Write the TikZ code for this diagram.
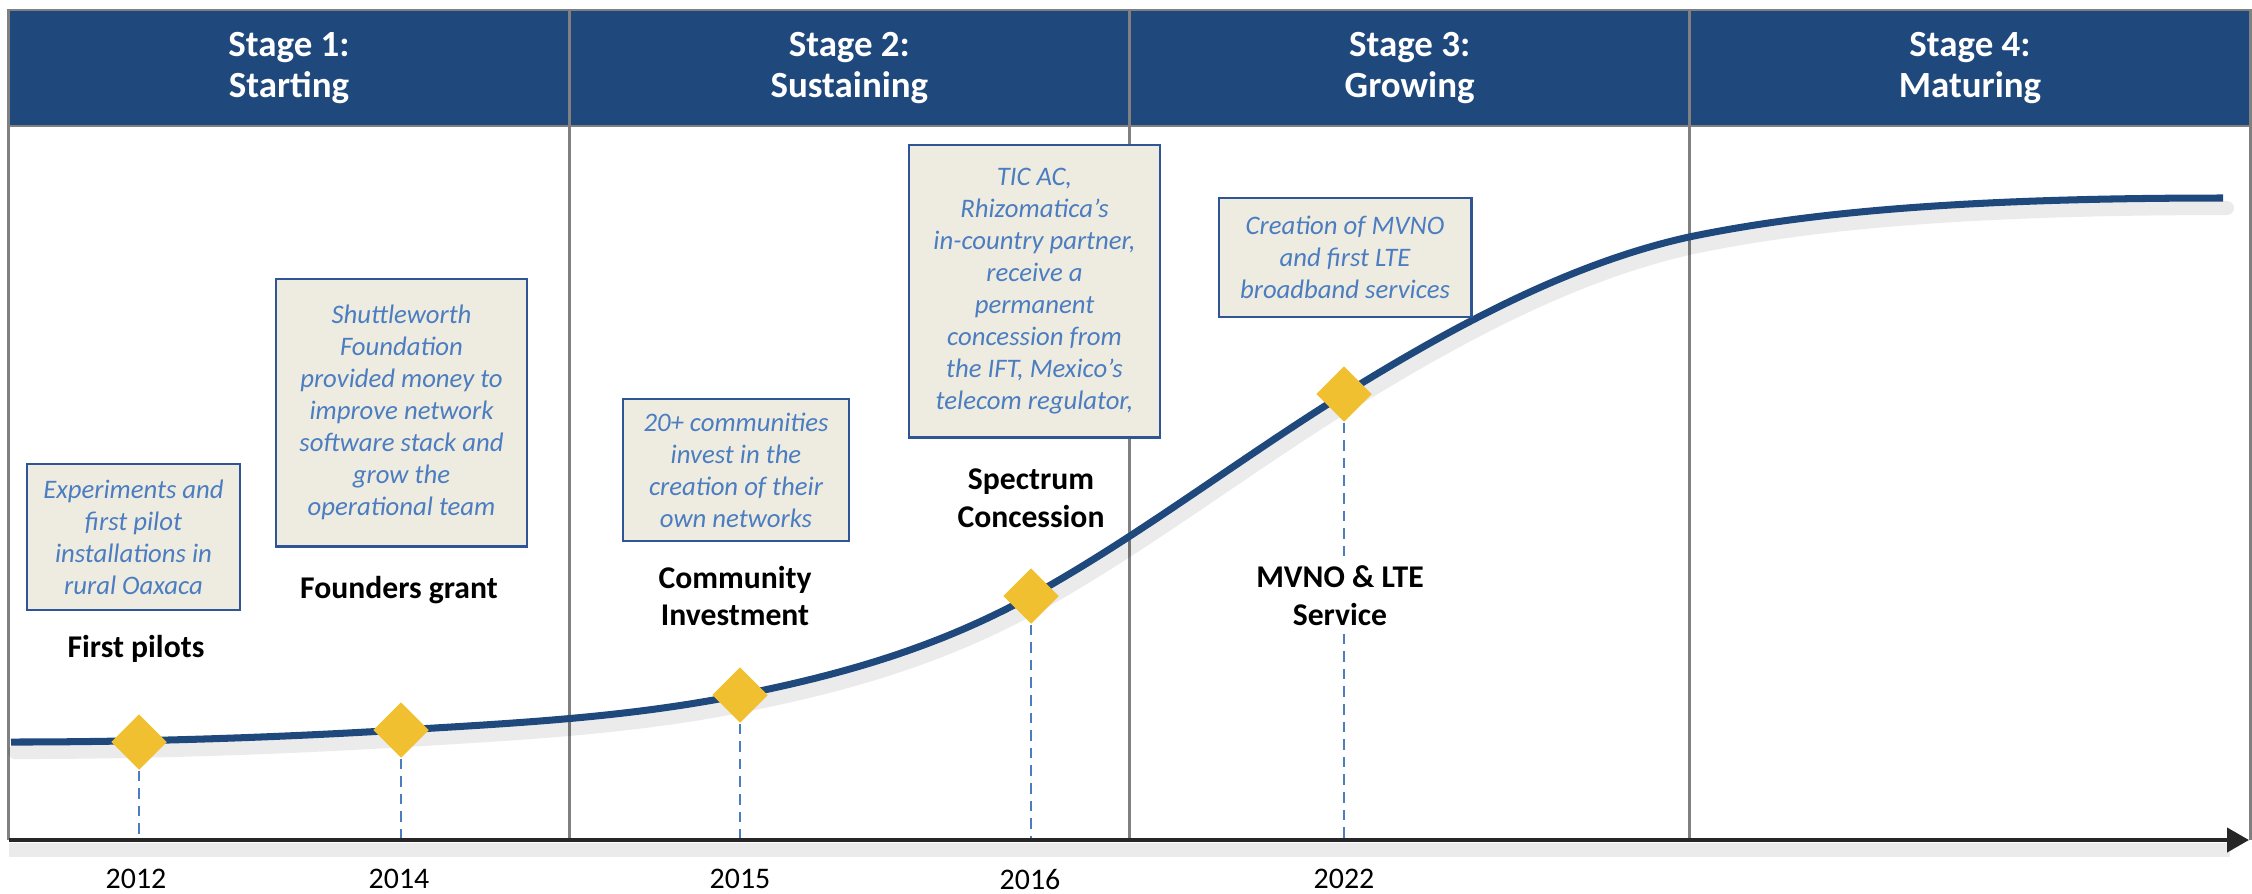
\documentclass[tikz,border=0pt]{standalone}
\usepackage{fontspec}
\setmainfont{Carlito}
\usetikzlibrary{positioning,arrows.meta,shapes.geometric}
\definecolor{StageBlue}{RGB}{31,73,125}
\definecolor{NoteBlue}{RGB}{75,125,192}
\definecolor{NoteEdge}{RGB}{47,85,151}
\definecolor{NoteFill}{RGB}{238,236,225}
\definecolor{MileGold}{RGB}{240,192,48}
\definecolor{GridGray}{RGB}{128,128,128}
\definecolor{AxisGray}{RGB}{38,38,38}

\begin{document}
\begin{tikzpicture}[
	x=0.01cm,
	y=-0.01cm,
	stagehead/.style={
		draw=GridGray,
		fill=StageBlue,
		text=white,
		font=\fontsize{10.5}{11.6}\selectfont\bfseries,
		align=center,
		minimum width=5.6cm,
		minimum height=1.16cm,
		inner sep=0pt,
		outer sep=0pt,
		line width=0.8pt
	},
	notebox/.style={
		draw=NoteEdge,
		fill=NoteFill,
		text=NoteBlue,
		font=\fontsize{7.6}{9.1}\selectfont\itshape,
		align=center,
		inner sep=0pt,
		line width=0.8pt
	},
	milestone/.style={
		diamond,
		aspect=1,
		fill=MileGold,
		minimum size=0.56cm,
		inner sep=0pt
	},
	eventlabel/.style={
		font=\fontsize{9}{10.8}\selectfont\bfseries,
		align=center,
		fill=white,
		inner sep=2pt
	},
	yearlabel/.style={
		font=\fontsize{8.5}{10}\selectfont
	},
	dropline/.style={
		NoteBlue,
		line width=0.6pt,
		dash pattern=on 3pt off 2pt
	}
	]
	
	\useasboundingbox (0,0) rectangle (2252,893);
	
	% stage header
	\node[stagehead] (stage1) at (289,68) {Stage 1:\\Starting};
	\node[stagehead, right=0pt of stage1] (stage2) {Stage 2:\\Sustaining};
	\node[stagehead, right=0pt of stage2] (stage3) {Stage 3:\\Growing};
	\node[stagehead, right=0pt of stage3] (stage4) {Stage 4:\\Maturing};
	
	\coordinate (axisL) at (9,840);
	\coordinate (axisR) at (2249,840);
	
	% stage columns
	\draw[GridGray, line width=0.8pt] (stage1.south west) -- (stage1.south west |- axisL);
	\draw[GridGray, line width=0.8pt] (stage2.south west) -- (stage2.south west |- axisL);
	\draw[GridGray, line width=0.8pt] (stage3.south west) -- (stage3.south west |- axisL);
	\draw[GridGray, line width=0.8pt] (stage4.south west) -- (stage4.south west |- axisL);
	\draw[GridGray, line width=0.8pt] (stage4.south east) -- (stage4.south east |- axisL);
	
	% growth curve
	\begin{scope}[shift={(4,10)}]
		\draw[black, opacity=0.08, line width=4pt, line cap=round]
		(11,742) .. controls (141,742) and (271,737.8) .. (401,730)
		.. controls (514,723.2) and (627,717.6) .. (740,695)
		.. controls (837,675.6) and (934,649.4) .. (1031,596)
		.. controls (1135.3,538.6) and (1239.7,458.7) .. (1344,394)
		.. controls (1459,322.7) and (1574,262.3) .. (1689,237)
		.. controls (1800,214) and (1950,198) .. (2223,198);
	\end{scope}
	\draw[StageBlue, line width=2pt]
	(11,742) .. controls (141,742) and (271,737.8) .. (401,730)
	.. controls (514,723.2) and (627,717.6) .. (740,695)
	.. controls (837,675.6) and (934,649.4) .. (1031,596)
	.. controls (1135.3,538.6) and (1239.7,458.7) .. (1344,394)
	.. controls (1459,322.7) and (1574,262.3) .. (1689,237)
	.. controls (1800,214) and (1950,198) .. (2223,198);
	
	% milestones
	\node[milestone] (m2012) at (139,742) {};
	\node[milestone] (m2014) at (401,730) {};
	\node[milestone] (m2015) at (740,695) {};
	\node[milestone] (m2016) at (1031,596) {};
	\node[milestone] (m2022) at (1344,394) {};
	
	\draw[dropline] (m2012.south) -- (m2012.south |- axisL);
	\draw[dropline] (m2014.south) -- (m2014.south |- axisL);
	\draw[dropline] (m2015.south) -- (m2015.south |- axisL);
	\draw[dropline] (m2016.south) -- (m2016.south |- axisL);
	\draw[dropline] (m2022.south) -- (m2022.south |- axisL);
	
	% event labels
	\node[eventlabel] (pilots) at (136,649) {First pilots};
	\node[eventlabel] (founders) at (399,590) {Founders grant};
	\node[eventlabel] (community) at (735,596) {Community\\Investment};
	\node[eventlabel] (spectrum) at (1031,498) {Spectrum\\Concession};
	\node[eventlabel] (mvno) at (1340,596) {MVNO \& LTE\\Service};
	
	% notes
	\node[
	notebox,
	minimum width=2.13cm,
	minimum height=1.46cm
	]
	(pilotsnote) at (133.5,537)
	{Experiments and\\first pilot\\installations in\\rural Oaxaca};
	
	\node[
	notebox,
	minimum width=2.51cm,
	minimum height=2.67cm
	]
	(foundersnote) at (401.5,412.5)
	{Shuttleworth\\Foundation\\provided money to\\improve network\\software stack and\\grow the\\operational team};
	
	\node[
	notebox,
	minimum width=2.26cm,
	minimum height=1.42cm
	]
	(communitynote) at (736,470)
	{20+ communities\\invest in the\\creation of their\\own networks};
	
	\node[
	notebox,
	minimum width=2.51cm,
	minimum height=2.92cm
	]
	(spectrumnote) at (1034.5,291)
	{TIC AC,\\Rhizomatica's\\in-country partner,\\receive a\\permanent\\concession from\\the IFT, Mexico's\\telecom regulator,};
	
	\node[
	notebox,
	minimum width=2.52cm,
	minimum height=1.19cm
	]
	(mvnonote) at (1345,257.5)
	{Creation of MVNO\\and first LTE\\broadband services};
	
	% time axis
	\draw[black, opacity=0.08, line width=4pt] (9,850) -- (2230,850);
	\draw[
	AxisGray,
	line width=1.2pt,
	-{Triangle[length=0.22cm, width=0.24cm]}
	]
	(axisL) -- (axisR);
	
	\node[yearlabel] (y2012) at (136,879) {2012};
	\node[yearlabel] (y2014) at (399,879) {2014};
	\node[yearlabel] (y2015) at (740,879) {2015};
	\node[yearlabel] (y2016) at (1030,879) {2016};
	\node[yearlabel] (y2022) at (1344,879) {2022};
	
\end{tikzpicture}
\end{document}
